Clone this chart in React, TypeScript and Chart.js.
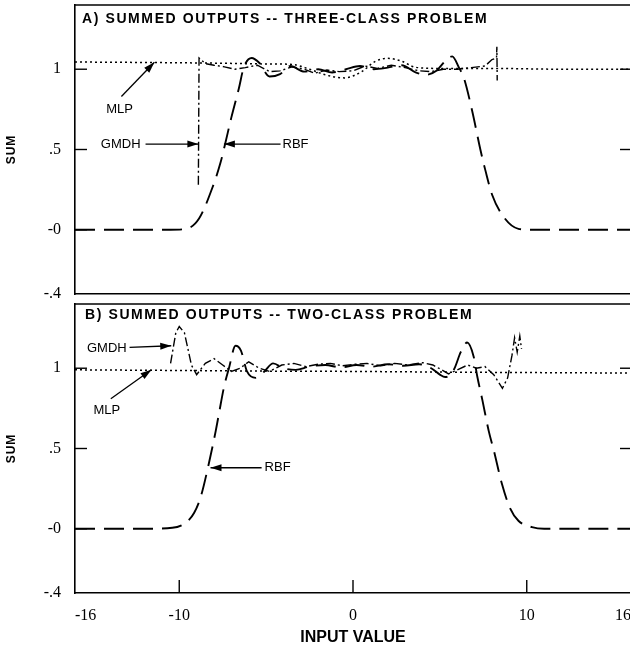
import React, { useEffect, useRef } from 'react';
import { Chart, registerables } from 'chart.js';

Chart.register(...registerables);

// ---- axis ticks ----
const X_TICKS = [-16, -10, 0, 10, 16];
const X_TICK_LABELS = ['-16', '-10', '0', '10', '16'];
const Y_TICKS = [-0.4, 0, 0.5, 1];
const Y_TICK_LABELS = ['-.4', '-0', '.5', '1'];
const X_INNER_TICKS = [-10, 0, 10];
const Y_INNER_TICKS = [0, 0.5, 1];
const Y_RIGHT_TICKS = [0.5, 1];

// ---- panel A : three-class problem ----
const A_MLP: [number, number][] = [
  [-16, 1.045], [-12, 1.042], [-8, 1.038], [-5, 1.033], [-3.5, 1.03], [-2.5, 1.0],
  [-1.5, 0.962], [-0.5, 0.946], [0.5, 0.985], [1.3, 1.05], [2.0, 1.068], [2.8, 1.05],
  [3.6, 1.012], [5, 1.005], [8, 1.005], [12, 1.0], [16, 1.0],
];
const A_GMDH: [number, number][] = [
  [-8.9, 0.28], [-8.86, 1.07], [-8.5, 1.035], [-8.0, 1.025], [-7.4, 1.015], [-6.8, 1.0],
  [-6.2, 1.01], [-5.5, 1.025], [-4.8, 0.985], [-4.2, 0.99], [-3.5, 1.015], [-2.8, 1.0],
  [-2.2, 0.975], [-1.5, 0.995], [-0.8, 0.985], [0, 0.99], [0.7, 1.02], [1.4, 1.005],
  [2.2, 1.025], [3.0, 1.01], [3.8, 0.99], [4.5, 0.985], [5.2, 1.0], [6.0, 1.0],
  [6.8, 1.01], [7.6, 1.02], [8.0, 1.06], [8.26, 1.07], [8.28, 1.14], [8.3, 0.93],
];
const A_RBF: [number, number][] = [
  [-16, 0], [-13, 0], [-10.5, 0], [-9.6, 0.006], [-8.86, 0.07], [-8.1, 0.26], [-7.62, 0.42],
  [-7.37, 0.53], [-7.0, 0.7], [-6.57, 0.88], [-6.29, 1.01], [-5.83, 1.07], [-5.4, 1.04],
  [-4.8, 0.955], [-4.2, 0.97], [-3.6, 1.02], [-2.8, 0.985], [-2.0, 1.0], [-1.2, 0.98],
  [-0.4, 1.0], [0.4, 1.02], [1.2, 1.0], [2.0, 1.01], [2.8, 1.025], [3.6, 0.98], [4.2, 0.965],
  [4.8, 0.99], [5.3, 1.05], [5.71, 1.08], [6.1, 1.01], [6.38, 0.946], [6.86, 0.74],
  [7.33, 0.5], [7.62, 0.37], [8.0, 0.22], [8.74, 0.07], [9.52, 0.006], [10.3, 0], [13, 0], [16, 0],
];

// ---- panel B : two-class problem ----
const B_MLP: [number, number][] = [
  [-16, 0.99], [-10, 0.986], [-5, 0.982], [0, 0.98], [5, 0.976], [10, 0.973], [16, 0.97],
];
const B_GMDH: [number, number][] = [
  [-10.5, 1.03], [-10.2, 1.22], [-10.0, 1.26], [-9.7, 1.22], [-9.3, 1.02], [-9.0, 0.96],
  [-8.5, 1.03], [-8.0, 1.06], [-7.5, 1.02], [-7.0, 0.98], [-6.5, 1.0], [-6.0, 1.04],
  [-5.4, 1.0], [-4.8, 0.98], [-4.1, 1.02], [-3.4, 1.03], [-2.7, 1.01], [-2.0, 1.025],
  [-1.3, 1.03], [-0.6, 1.015], [0.1, 1.025], [0.8, 1.03], [1.6, 1.015], [2.4, 1.03],
  [3.2, 1.02], [4.0, 1.035], [4.6, 1.02], [5.1, 0.99], [5.5, 0.965], [6.0, 0.99],
  [6.6, 1.02], [7.1, 1.0], [7.6, 1.01], [8.1, 0.96], [8.6, 0.875], [8.9, 0.94],
  [9.15, 1.08], [9.3, 1.19], [9.45, 1.1], [9.6, 1.2], [9.7, 1.12],
];
const B_RBF: [number, number][] = [
  [-16, 0], [-12, 0], [-10.4, 0.006], [-9.6, 0.04], [-9.14, 0.1], [-8.76, 0.2], [-8.29, 0.41],
  [-7.9, 0.61], [-7.71, 0.72], [-7.43, 0.88], [-7.14, 1.0], [-6.76, 1.14], [-6.45, 1.11],
  [-6.1, 0.98], [-5.6, 0.94], [-5.1, 0.98], [-4.6, 1.03], [-4.0, 1.0], [-3.3, 0.99],
  [-2.5, 1.01], [-1.6, 1.02], [-0.7, 1.005], [0.2, 1.02], [1.1, 1.01], [2.0, 1.025],
  [2.9, 1.015], [3.8, 1.025], [4.5, 1.0], [5.0, 0.96], [5.3, 0.945], [5.8, 0.99], [6.2, 1.1],
  [6.57, 1.16], [6.95, 1.07], [7.15, 0.95], [7.45, 0.8], [7.81, 0.61], [8.1, 0.49],
  [8.57, 0.28], [9.03, 0.13], [9.52, 0.05], [10.3, 0.01], [11, 0], [16, 0],
];

type Note = { text: string; tx: number; ty: number; x0: number; y0: number; x1: number; y1: number };

const A_NOTES: Note[] = [
  { text: 'MLP', tx: -13.43, ty: 0.752, x0: -13.33, y0: 0.83, x1: -11.43, y1: 1.043 },
  { text: 'GMDH', tx: -13.37, ty: 0.534, x0: -11.94, y0: 0.534, x1: -8.9, y1: 0.534 },
  { text: 'RBF', tx: -3.31, ty: 0.534, x0: -4.17, y0: 0.534, x1: -7.43, y1: 0.534 },
];
const B_NOTES: Note[] = [
  { text: 'GMDH', tx: -14.17, ty: 1.125, x0: -12.86, y0: 1.13, x1: -10.46, y1: 1.14 },
  { text: 'MLP', tx: -14.17, ty: 0.74, x0: -13.94, y0: 0.81, x1: -11.6, y1: 0.99 },
  { text: 'RBF', tx: -4.34, ty: 0.38, x0: -5.26, y0: 0.38, x1: -8.2, y1: 0.38 },
];

type Panel = {
  title: string;
  titleX: number;
  titleDy: number;
  padTop: number;
  showX: boolean;
  mlp: [number, number][];
  gmdh: [number, number][];
  rbf: [number, number][];
  notes: Note[];
};

const SANS = '"Liberation Sans", Arial, Helvetica, sans-serif';
const SERIF = '"Liberation Serif", "Times New Roman", serif';

function drawArrow(ctx: CanvasRenderingContext2D, x0: number, y0: number, x1: number, y1: number) {
  ctx.beginPath();
  ctx.moveTo(x0, y0);
  ctx.lineTo(x1, y1);
  ctx.lineWidth = 1.3;
  ctx.stroke();
  const a = Math.atan2(y1 - y0, x1 - x0);
  const L = 11;
  const W = 3.5;
  ctx.beginPath();
  ctx.moveTo(x1, y1);
  ctx.lineTo(x1 - L * Math.cos(a) + W * Math.sin(a), y1 - L * Math.sin(a) - W * Math.cos(a));
  ctx.lineTo(x1 - L * Math.cos(a) - W * Math.sin(a), y1 - L * Math.sin(a) + W * Math.cos(a));
  ctx.closePath();
  ctx.fill();
}

function decorPlugin(p: Panel) {
  return {
    id: 'decor',
    afterDraw(chart: any) {
      const { ctx, chartArea: ca, scales } = chart;
      const xs = scales.x;
      const ys = scales.y;
      ctx.save();
      ctx.setLineDash([]);
      ctx.strokeStyle = '#000';
      ctx.fillStyle = '#000';
      ctx.lineWidth = 1.6;
      // top frame line
      ctx.beginPath();
      ctx.moveTo(ca.left - 0.8, ca.top);
      ctx.lineTo(ca.right, ca.top);
      ctx.stroke();
      // inward y ticks
      ctx.lineWidth = 1.4;
      for (const v of Y_INNER_TICKS) {
        const y = ys.getPixelForValue(v);
        ctx.beginPath();
        ctx.moveTo(ca.left, y);
        ctx.lineTo(ca.left + 12, y);
        ctx.stroke();
      }
      for (const v of Y_RIGHT_TICKS) {
        const y = ys.getPixelForValue(v);
        ctx.beginPath();
        ctx.moveTo(ca.right - 11, y);
        ctx.lineTo(ca.right, y);
        ctx.stroke();
      }
      if (p.showX) {
        for (const v of X_INNER_TICKS) {
          const x = xs.getPixelForValue(v);
          ctx.beginPath();
          ctx.moveTo(x, ca.bottom);
          ctx.lineTo(x, ca.bottom - 13);
          ctx.stroke();
        }
      }
      // panel title
      ctx.font = `bold 14px ${SANS}`;
      (ctx as any).letterSpacing = '1.6px';
      ctx.textAlign = 'left';
      ctx.textBaseline = 'alphabetic';
      ctx.fillText(p.title, p.titleX, ca.top + p.titleDy);
      (ctx as any).letterSpacing = '0px';
      // notes with arrows
      ctx.font = `13px ${SANS}`;
      ctx.textAlign = 'center';
      ctx.textBaseline = 'middle';
      for (const n of p.notes) {
        ctx.fillText(n.text, xs.getPixelForValue(n.tx), ys.getPixelForValue(n.ty));
        drawArrow(
          ctx,
          xs.getPixelForValue(n.x0),
          ys.getPixelForValue(n.y0),
          xs.getPixelForValue(n.x1),
          ys.getPixelForValue(n.y1),
        );
      }
      // y axis title
      ctx.save();
      ctx.translate(12, (ca.top + ca.bottom) / 2);
      ctx.rotate(-Math.PI / 2);
      ctx.font = `bold 12px ${SANS}`;
      (ctx as any).letterSpacing = '1px';
      ctx.textAlign = 'center';
      ctx.textBaseline = 'middle';
      ctx.fillText('SUM', 0, 0);
      ctx.restore();
      // x axis title
      if (p.showX) {
        ctx.font = `bold 16px ${SANS}`;
        ctx.textAlign = 'center';
        ctx.textBaseline = 'alphabetic';
        ctx.fillText('INPUT VALUE', (ca.left + ca.right) / 2, chart.height - 3);
      }
      ctx.restore();
    },
  };
}

const toPts = (arr: [number, number][]) => arr.map(([x, y]) => ({ x, y }));

const clearPadding = (s: any) => {
  s.paddingTop = 0;
  s.paddingBottom = 0;
  s.paddingLeft = 0;
  s.paddingRight = 0;
};

function buildConfig(p: Panel): any {
  return {
    type: 'line',
    data: {
      datasets: [
        {
          label: 'MLP',
          data: toPts(p.mlp),
          borderColor: '#000',
          borderDash: [2, 3],
          borderWidth: 1.5,
          cubicInterpolationMode: 'monotone',
          pointRadius: 0,
          fill: false,
        },
        {
          label: 'GMDH',
          data: toPts(p.gmdh),
          borderColor: '#000',
          borderDash: [9, 3, 2, 3],
          borderWidth: 1.4,
          tension: 0,
          pointRadius: 0,
          fill: false,
        },
        {
          label: 'RBF',
          data: toPts(p.rbf),
          borderColor: '#000',
          borderDash: [20, 9],
          borderWidth: 1.9,
          cubicInterpolationMode: 'monotone',
          pointRadius: 0,
          fill: false,
        },
      ],
    },
    options: {
      animation: false,
      responsive: false,
      events: [],
      layout: { padding: { left: 0, right: 1, top: p.padTop, bottom: p.showX ? 0 : 6 } },
      plugins: {
        legend: { display: false },
        tooltip: { enabled: false },
        title: { display: false },
      },
      scales: {
        x: {
          type: 'linear',
          min: -16,
          max: 16,
          afterBuildTicks: (s: any) => {
            s.ticks = X_TICKS.map((v) => ({ value: v }));
          },
          afterFit: (s: any) => {
            s.height = p.showX ? 52 : 0;
            clearPadding(s);
          },
          ticks: {
            display: p.showX,
            autoSkip: false,
            maxRotation: 0,
            align: 'inner',
            padding: 13,
            color: '#000',
            font: { family: SERIF, size: 16 },
            callback: (v: number) => X_TICK_LABELS[X_TICKS.indexOf(v)],
          },
          grid: { display: false, drawTicks: false },
          border: { display: true, color: '#000', width: 1.6 },
        },
        y: {
          type: 'linear',
          min: -0.4,
          max: 1.4,
          afterBuildTicks: (s: any) => {
            s.ticks = Y_TICKS.map((v) => ({ value: v }));
          },
          afterFit: (s: any) => {
            s.width = 75;
            clearPadding(s);
          },
          ticks: {
            autoSkip: false,
            padding: 14,
            color: '#000',
            font: { family: SERIF, size: 16 },
            callback: (v: number) => Y_TICK_LABELS[Y_TICKS.indexOf(v)],
          },
          grid: { display: false, drawTicks: false },
          border: { display: true, color: '#000', width: 1.6 },
        },
      },
    },
    plugins: [decorPlugin(p)],
  };
}

const PANEL_A: Panel = {
  title: 'A) SUMMED OUTPUTS -- THREE-CLASS PROBLEM',
  titleX: 82,
  titleDy: 18,
  padTop: 5,
  showX: false,
  mlp: A_MLP,
  gmdh: A_GMDH,
  rbf: A_RBF,
  notes: A_NOTES,
};

const PANEL_B: Panel = {
  title: 'B) SUMMED OUTPUTS -- TWO-CLASS PROBLEM',
  titleX: 85,
  titleDy: 15,
  padTop: 4,
  showX: true,
  mlp: B_MLP,
  gmdh: B_GMDH,
  rbf: B_RBF,
  notes: B_NOTES,
};

const CANVAS_W = 632;

function PanelChart({ panel, height, top }: { panel: Panel; height: number; top: number }) {
  const ref = useRef<HTMLCanvasElement | null>(null);
  useEffect(() => {
    if (!ref.current) return;
    const chart = new Chart(ref.current, buildConfig(panel));
    return () => chart.destroy();
  }, [panel]);
  return (
    <canvas
      ref={ref}
      width={CANVAS_W}
      height={height}
      style={{ position: 'absolute', left: 0, top, width: CANVAS_W, height, display: 'block' }}
    />
  );
}

export default function App() {
  useEffect(() => {
    document.body.style.margin = '0';
    document.body.style.background = '#fff';
  }, []);
  return (
    <div style={{ position: 'relative', width: 630, height: 645, overflow: 'hidden', background: '#fff' }}>
      <PanelChart panel={PANEL_A} height={300} top={0} />
      <PanelChart panel={PANEL_B} height={345} top={300} />
    </div>
  );
}
